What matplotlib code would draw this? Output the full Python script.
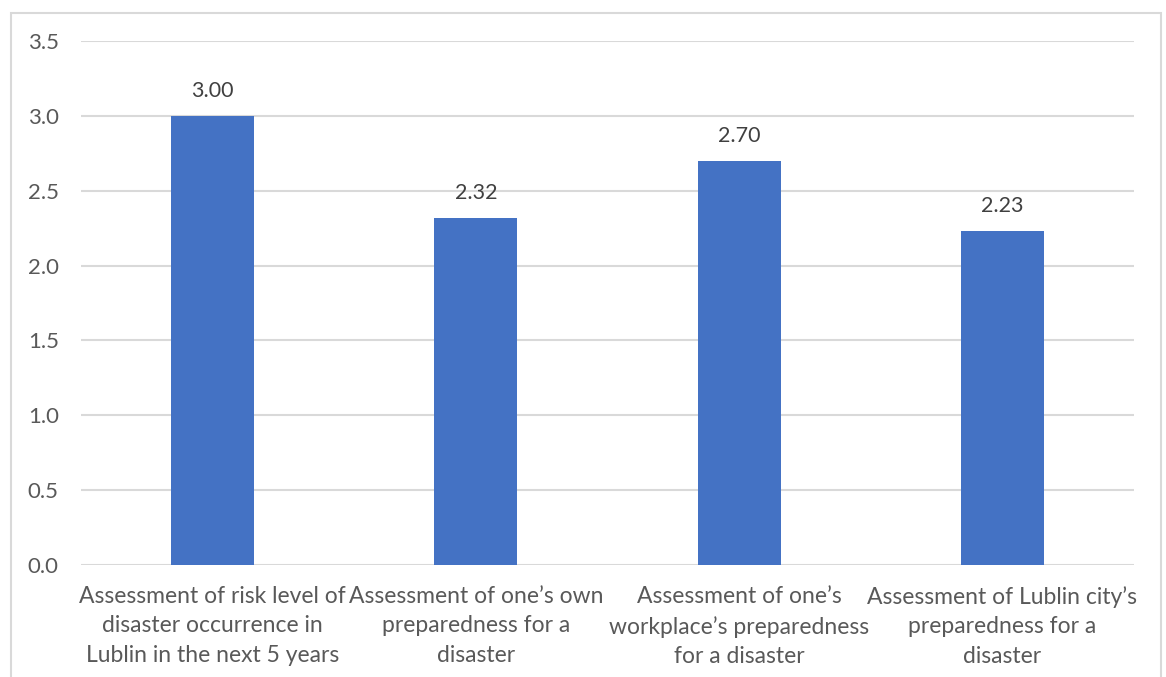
import matplotlib
matplotlib.use("Agg")
import matplotlib.pyplot as plt
from matplotlib.patches import Rectangle

categories = [
    "Assessment of risk level of\ndisaster occurrence in\nLublin in the next 5 years",
    "Assessment of one\u2019s own\npreparedness for a\ndisaster",
    "Assessment of one\u2019s\nworkplace\u2019s preparedness\nfor a disaster",
    "Assessment of Lublin city\u2019s\npreparedness for a\ndisaster",
]
values = [3.00, 2.32, 2.70, 2.23]
yticks = [0.0, 0.5, 1.0, 1.5, 2.0, 2.5, 3.0, 3.5]

plt.rcParams['font.family'] = ['Lato', 'DejaVu Sans']
text_color = "#595959"

fig = plt.figure(figsize=(11.66, 6.77), dpi=100)
ax = fig.add_axes([81/1166, 1-565/677, (1134-81)/1166, (565-41)/677])

x = list(range(len(categories)))
bars = ax.bar(x, values, width=0.315, color="#4472C4", zorder=3)
for xi, v in zip(x, values):
    ax.text(xi, v + 0.1, f"{v:.2f}", ha="center", va="bottom",
            fontsize=15.5, color="#404040")

ax.set_xlim(-0.5, len(categories) - 0.5)
ax.set_ylim(0, 3.5)
ax.set_yticks(yticks)
ax.set_yticklabels([f"{t:.1f}" for t in yticks], fontsize=16, color=text_color)
ax.set_xticks(x)
ax.set_xticklabels(categories, fontsize=16.5, color=text_color, linespacing=1.5)
ax.tick_params(axis="both", length=0)
ax.tick_params(axis="y", pad=16)
ax.tick_params(axis="x", pad=15)
ax.yaxis.grid(True, color="#D9D9D9", linewidth=1.5, zorder=0)
for s in ax.spines.values():
    s.set_visible(False)

fig.patches.append(Rectangle((11/1166, -0.1), 1150/1166, 1.1 - 13/677,
                             transform=fig.transFigure, fill=False,
                             edgecolor="#D9D9D9", linewidth=1.5))

fig.savefig("out.png", dpi=100)
